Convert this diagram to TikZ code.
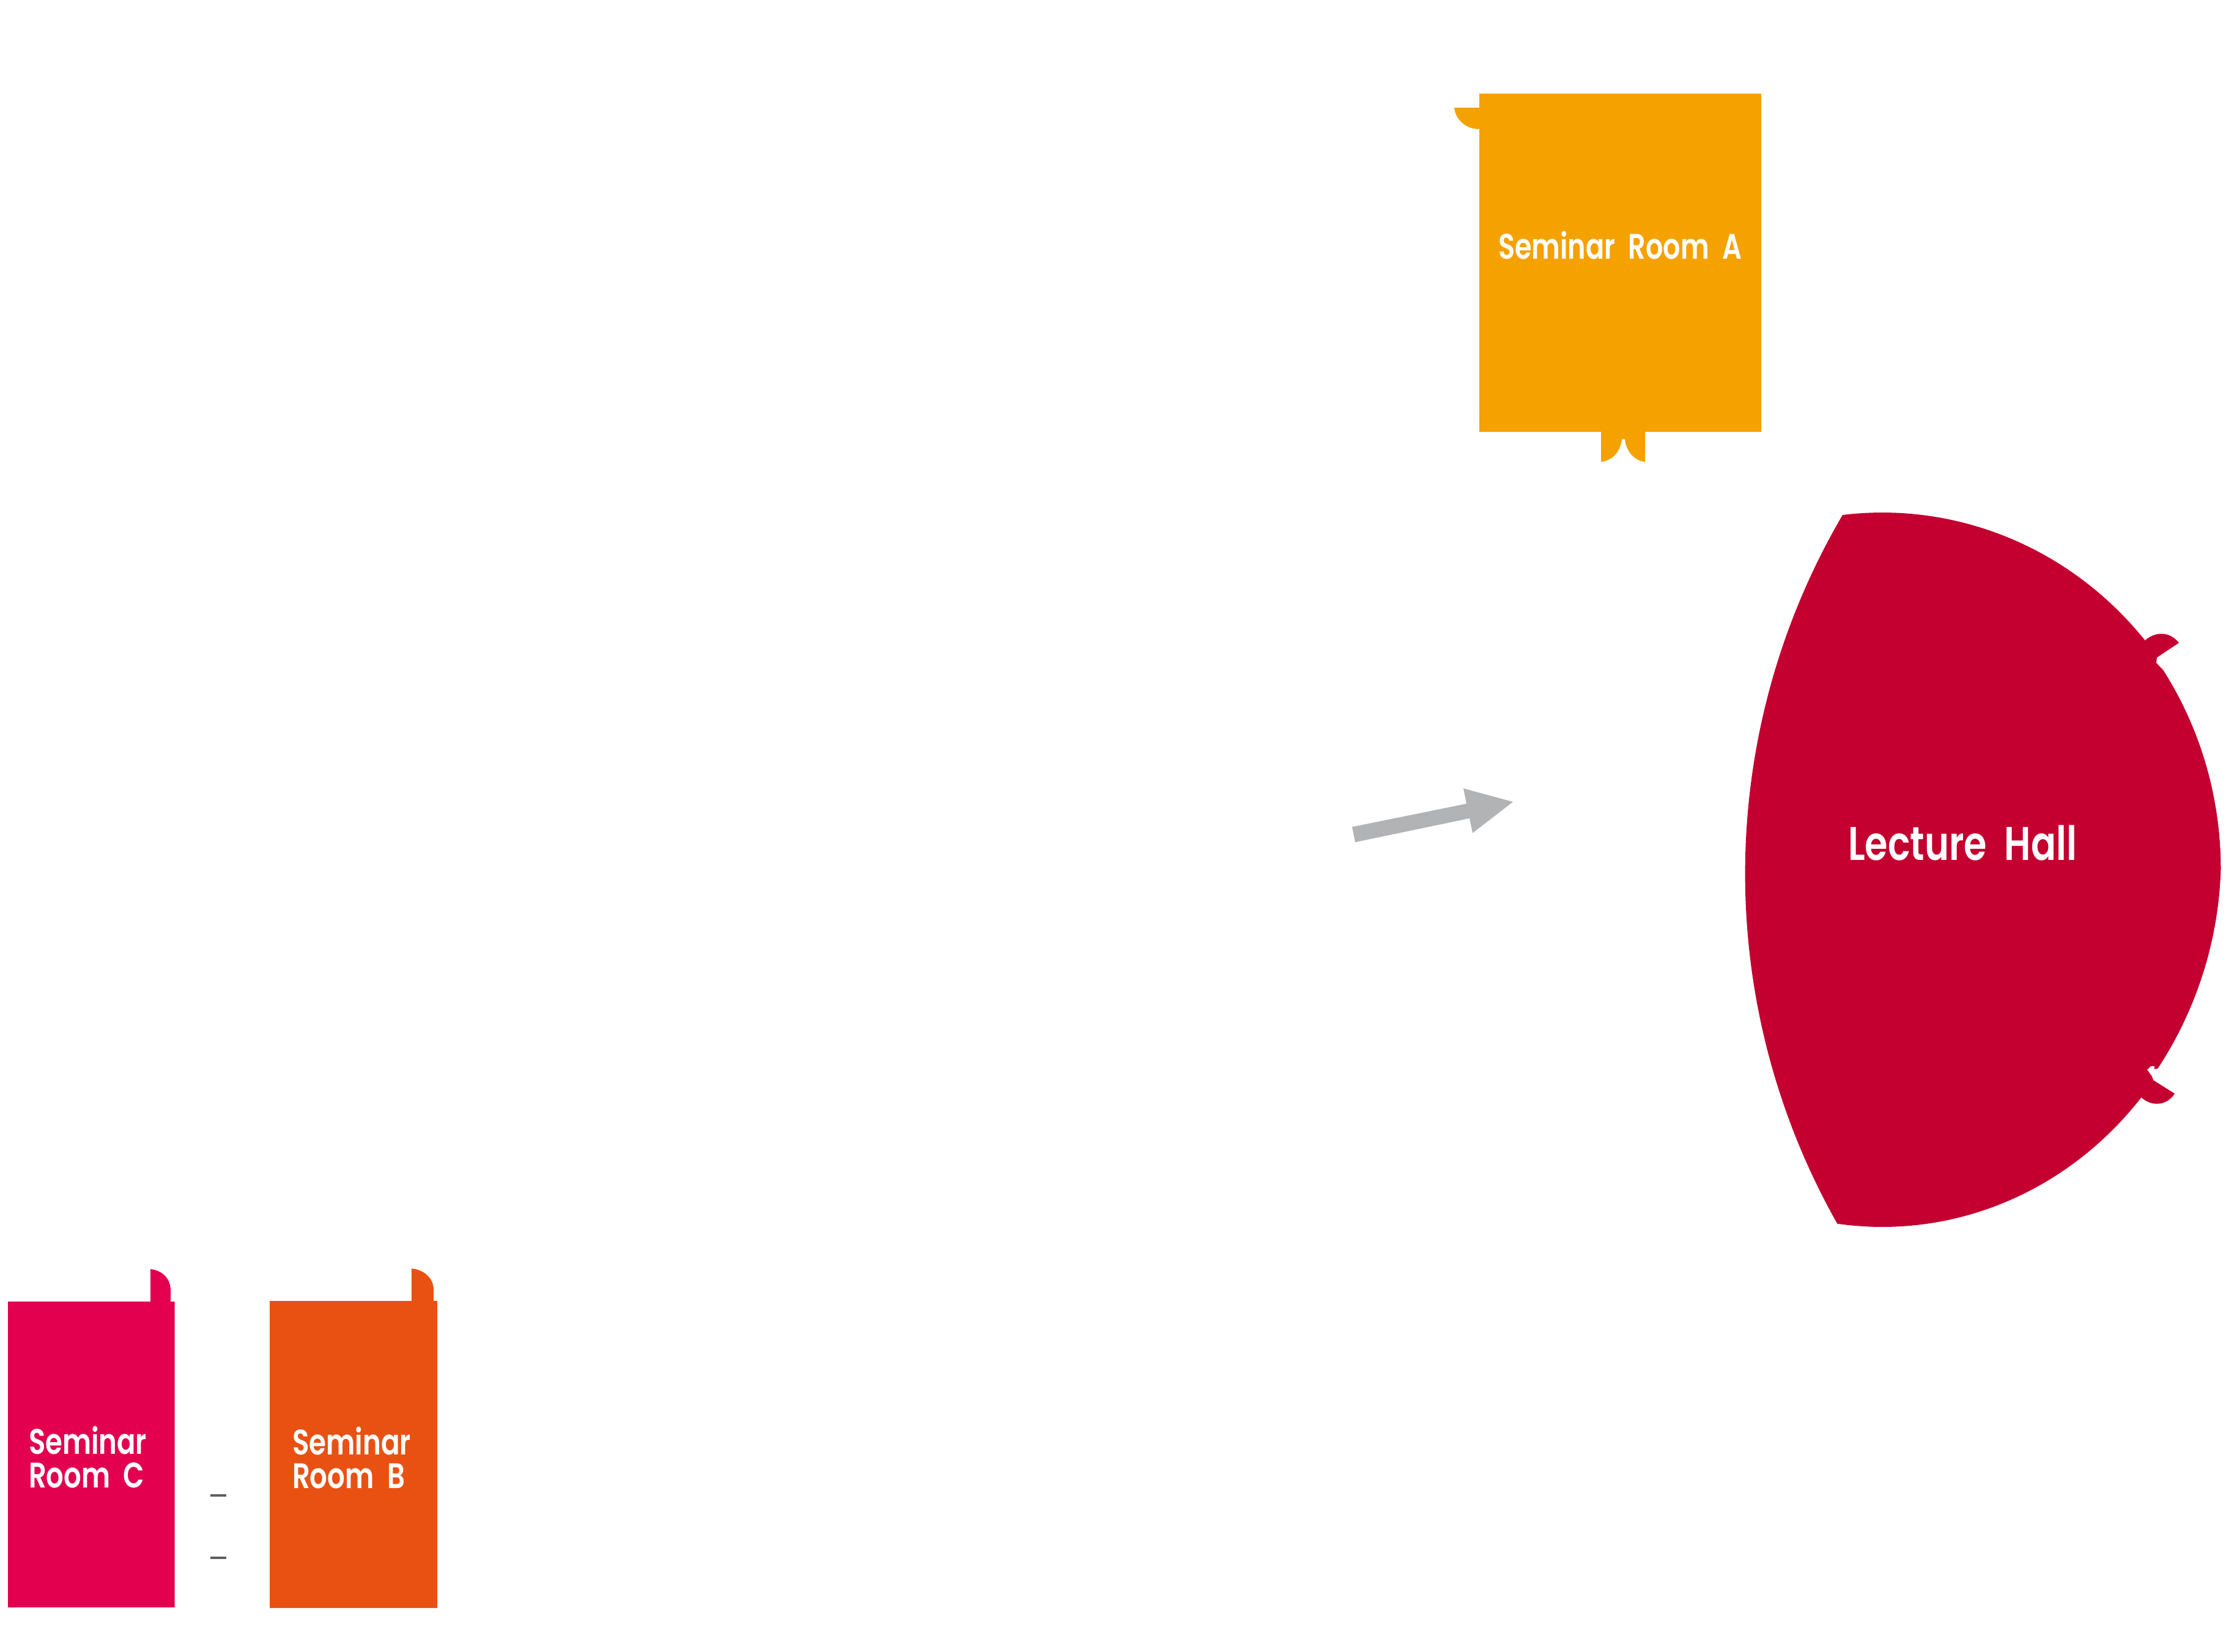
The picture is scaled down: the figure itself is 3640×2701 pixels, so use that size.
\documentclass[tikz,border=0pt]{standalone}
\usepackage{fontspec}
\usepackage{graphicx}
\setmainfont{Poppins}[UprightFont=* SemiBold,WordSpace=2]
\newlength\pxu
\setlength\pxu{0.2mm}
\definecolor{roomA}{HTML}{F5A100}
\definecolor{roomB}{HTML}{E95113}
\definecolor{roomC}{HTML}{E3004F}
\definecolor{hallC}{HTML}{C3002F}
\definecolor{arrowC}{HTML}{B1B3B5}
\definecolor{dashC}{HTML}{5F5F5F}
\newcommand{\smallroom}{\fontsize{33pt}{33pt}\selectfont}
\newcommand{\hallfont}{\fontsize{44pt}{44pt}\selectfont}
\newcommand{\twolines}[2]{\vtop{\baselineskip=55\pxu\lineskiplimit=-100pt\hbox{#1}\hbox{#2}}}
\tikzset{
  label/.style={anchor=base west,inner sep=0pt,outer sep=0pt,text=white},
  tick/.style={draw=dashC,line width=3.5\pxu}
}
\begin{document}
\begin{tikzpicture}[x=0.2mm,y=-0.2mm]
\useasboundingbox (0,0) rectangle (3640,2701);
% Seminar Room A
\fill[roomA] (2419,153) -- (2880,153) -- (2880,706) -- (2690,706) -- (2690,755)
  .. controls (2674,754) and (2659,739) .. (2657,718) -- (2652,718)
  .. controls (2650,739) and (2635,754) .. (2618,755) -- (2618,706) -- (2419,706) -- (2419,211)
  .. controls (2396,211) and (2380,195) .. (2378,176) -- (2419,176) -- cycle;
% Lecture Hall
\fill[hallC] plot[domain=96.67:39.9,samples=60] ({3078+560*cos(\x)},{1421-583*sin(\x)})
  .. controls (3522,1034) and (3546,1030) .. (3563,1051)
  -- (3527,1075) -- (3526,1084)
  -- plot[domain=34:0,samples=40] ({3078+553.5*cos(\x)},{1421-583*sin(\x)})
  -- plot[domain=0:-34,samples=40] ({3078+(553.5+0.3*\x)*cos(\x)},{1421-583*sin(\x)})
  -- (3523,1748) -- (3523,1743) -- (3517,1743) -- (3511,1749) -- (3519,1760) -- (3521,1766) -- (3556,1788)
  .. controls (3545,1806) and (3520,1812) .. (3500,1793)
  -- plot[domain=-39.5:-97.7,samples=60] ({3078+550*cos(\x)},{1421-585*sin(\x)})
  .. controls (2800.3,1639.7) and (2803.7,1199) .. (3013,842) -- cycle;
% Seminar Room C
\fill[roomC] (13,2128) -- (246,2128) -- (246,2075) .. controls (265,2077) and (279,2090) .. (279,2110)
  -- (279,2128) -- (285.5,2128) -- (285.5,2628) -- (13,2628) -- cycle;
% Seminar Room B
\fill[roomB] (441,2127) -- (673,2127) -- (673,2074) .. controls (693,2076) and (709,2089) .. (709,2109)
  -- (709,2127) -- (715,2127) -- (715,2629) -- (441,2629) -- cycle;
% Arrow
\fill[arrowC] (2211,1352) -- (2398,1314) -- (2393,1289) -- (2474,1311) -- (2408,1362) -- (2403,1338) -- (2216,1377) -- cycle;
% Ticks
\coordinate (tickAl) at (344,2445);
\coordinate (tickAr) at (370,2445);
\coordinate (tickBl) at (344,2547);
\coordinate (tickBr) at (370,2547);
\draw[tick] (tickAl) -- (tickAr);
\draw[tick] (tickBl) -- (tickBr);
% Labels
\node[label] (labelA) at (2450,423) {\resizebox{398\pxu}{\height}{\smallroom Seminar Room A}};
\node[label] (labelHall) at (3022,1406) {\resizebox{374\pxu}{\height}{\hallfont Lecture Hall}};
\node[label] (labelC) at (47,2377) {\resizebox*{193\pxu}{\totalheight}{\smallroom\twolines{Seminar}{Room C}}};
\node[label] (labelB) at (478,2378) {\resizebox*{194\pxu}{\totalheight}{\smallroom\twolines{Seminar}{Room B}}};
\end{tikzpicture}
\end{document}
